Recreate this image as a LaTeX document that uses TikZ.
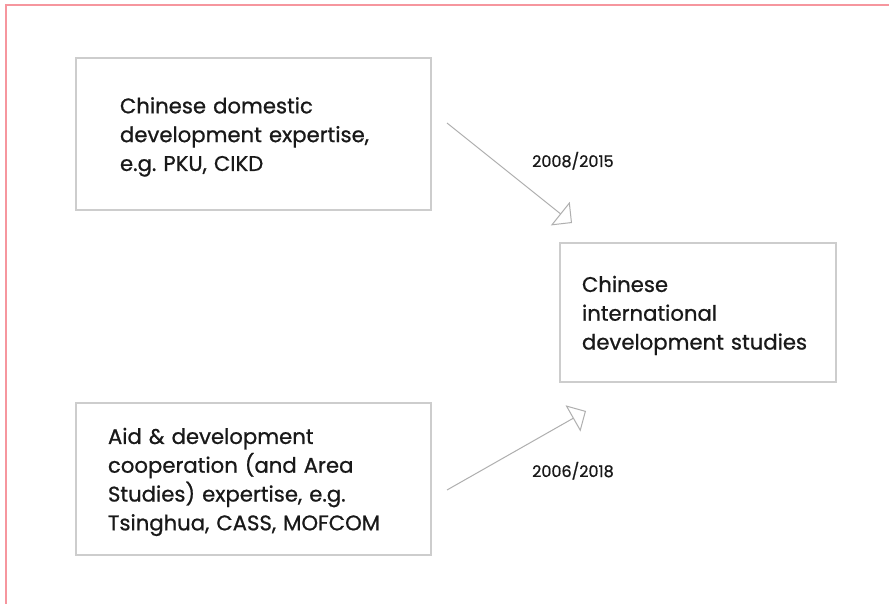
\documentclass[tikz,border=0pt]{standalone}
\usepackage{fontspec}
\setmainfont{Poppins}[FakeBold=0.8]
\usetikzlibrary{arrows.meta}
\definecolor{frame}{RGB}{246,150,158}
\definecolor{boxline}{RGB}{205,205,205}
\definecolor{arrowline}{RGB}{175,175,175}
\definecolor{ink}{RGB}{25,25,25}
\newcommand{\downstrut}{\rule{0pt}{22pt}}
\tikzset{
  box/.style={draw=boxline, line width=1.4pt, rectangle, align=left, text=ink,
    font=\fontsize{21.2}{28.8}\selectfont, inner ysep=0pt},
  flow/.style={draw=arrowline, line width=1pt, -{Triangle[open, length=15pt, width=30pt]}},
  yearlabel/.style={text=ink, font=\fontsize{16}{18}\selectfont, inner sep=0pt, anchor=base west}
}
\begin{document}
\begin{tikzpicture}[x=1pt, y=-1pt]
\useasboundingbox (0,0) rectangle (889,604);
\fill[white] (0,0) rectangle (889,604);
\draw[frame, line width=2.2pt] (6,604) -- (6,5) -- (889,5);

\node[box, minimum width=355pt, minimum height=152pt, text width=267pt, inner xsep=44pt]
  (dom) at (253.5,134) {\downstrut Chinese domestic\\development expertise,\\e.g.\ PKU, CIKD};
\node[box, minimum width=276pt, minimum height=139pt, text width=232pt, inner xsep=22pt]
  (cids) at (698,312.5) {\downstrut Chinese\\international\\development studies};
\node[box, minimum width=355pt, minimum height=152pt, text width=291pt, inner xsep=32pt]
  (aid) at (253.5,479) {\downstrut Aid \& development\\cooperation (and Area\\Studies) expertise, e.g.\\Tsinghua, CASS, MOFCOM};

\coordinate (s1) at (447,123);
\coordinate (t1) at (572,223);
\coordinate (s2) at (447,490);
\coordinate (t2) at (586,411);
\draw[flow] (s1) -- (t1);
\draw[flow] (s2) -- (t2);

\node[yearlabel] (y1) at (532,167) {2008/2015};
\node[yearlabel] (y2) at (532,477) {2006/2018};
\end{tikzpicture}
\end{document}
